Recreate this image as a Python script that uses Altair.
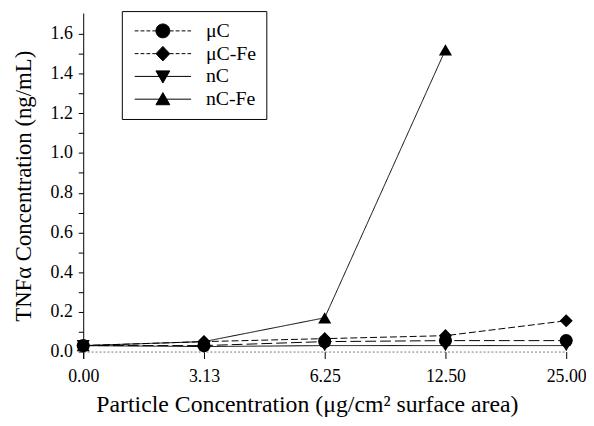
import altair as alt
import pandas as pd

# ---- data ----
x_labels = ["0.00", "3.13", "6.25", "12.50", "25.00"]
series_names = ["μC", "μC-Fe", "nC", "nC-Fe"]
uC = [0.03, 0.03, 0.05, 0.055, 0.055]
uC_Fe = [0.03, 0.05, 0.065, 0.08, 0.155]
nC = [0.03, 0.025, 0.03, 0.03, 0.03]
nC_Fe = [0.03, 0.05, 0.17, 1.52, None]

rows = []
for name, vals in zip(series_names, [uC, uC_Fe, nC, nC_Fe]):
    for xl, v in zip(x_labels, vals):
        if v is not None:
            rows.append({"x": xl, "y": v, "series": name})
df = pd.DataFrame(rows)

y_tick_values = [0.0, 0.1, 0.2, 0.3, 0.4, 0.5, 0.6, 0.7, 0.8, 0.9, 1.0,
                 1.1, 1.2, 1.3, 1.4, 1.5, 1.6]

FONT = "Liberation Serif"

# ---- legend symbols (line + marker) as custom paths ----
CX = 3.07
L0, L1 = -1.0, 7.14


def fmt(v):
    return f"{v:.3f}".rstrip("0").rstrip(".")


def line_part(dashed):
    if not dashed:
        return f"M{fmt(L0)},0H{fmt(L1)}"
    out = []
    for a, b in [(L0, CX - 1.0), (CX + 1.0, L1)]:
        p = a
        while p < b:
            q = min(p + 0.55, b)
            out.append(f"M{fmt(p)},0H{fmt(q)}")
            p = q + 0.3
    return "".join(out)


def circle(cx):
    k = 0.5523
    return (f"M{fmt(cx-1)},0"
            f"C{fmt(cx-1)},{fmt(-k)} {fmt(cx-k)},-1 {fmt(cx)},-1"
            f"C{fmt(cx+k)},-1 {fmt(cx+1)},{fmt(-k)} {fmt(cx+1)},0"
            f"C{fmt(cx+1)},{fmt(k)} {fmt(cx+k)},1 {fmt(cx)},1"
            f"C{fmt(cx-k)},1 {fmt(cx-1)},{fmt(k)} {fmt(cx-1)},0Z")


def diamond(cx):
    return f"M{fmt(cx)},-1.05L{fmt(cx+1)},0L{fmt(cx)},1.05L{fmt(cx-1)},0Z"


def tri_down(cx):
    return f"M{fmt(cx-1)},-0.8L{fmt(cx+1)},-0.8L{fmt(cx)},0.95Z"


def tri_up(cx):
    return f"M{fmt(cx)},-0.95L{fmt(cx+1)},0.8L{fmt(cx-1)},0.8Z"


legend_paths = [
    line_part(True) + circle(CX),
    line_part(True) + diamond(CX),
    line_part(False) + tri_down(CX),
    line_part(False) + tri_up(CX),
]

xenc = alt.X("x:O", sort=x_labels,
             scale=alt.Scale(type="point", padding=0),
             axis=alt.Axis(title="Particle Concentration (μg/cm² surface area)",
                           labelAngle=0, offset=-7, tickSize=7, labelPadding=9,
                           labelFont=FONT, labelFontSize=18, labelColor="black",
                           titleFont=FONT, titleFontSize=24,
                           domainDash=[2, 2], domainColor="#777",
                           titleX=226, titleY=61, titleBaseline="alphabetic"))
yenc = alt.Y("y:Q",
             scale=alt.Scale(domain=[-0.035, 1.705], nice=False, zero=False),
             axis=alt.Axis(title="TNFα Concentration (ng/mL)",
                           values=y_tick_values, tickSize=5, labelPadding=6,
                           labelOverlap=False,
                           labelFont=FONT, labelFontSize=18, labelColor="black",
                           titleFont=FONT, titleFontSize=23,
                           labelExpr="round(datum.value*10) % 2 == 0 ? format(datum.value, '.1f') : ''",
                           titleX=-60, titleBaseline="middle"))

base = alt.Chart(df)

lines = base.mark_line(color="black", strokeWidth=1).encode(
    x=xenc, y=yenc,
    strokeDash=alt.StrokeDash("series:N",
                              scale=alt.Scale(domain=series_names,
                                              range=[[11, 4], [7, 3], [1, 0], [1, 0]]),
                              legend=None),
    detail="series:N",
)

points = base.mark_point(filled=True, color="black", opacity=1, size=175).encode(
    x=xenc, y=yenc,
    shape=alt.Shape("series:N",
                    scale=alt.Scale(domain=series_names,
                                    range=["circle", "diamond", "triangle-down", "triangle-up"]),
                    legend=None),
)


def legend_spec(show_box, label_opacity):
    kw = dict(title=None, orient="none", legendX=39, legendY=-2, padding=10,
              symbolSize=196, labelOffset=55, labelFont=FONT, labelFontSize=20,
              labelColor="black", labelOpacity=label_opacity, rowPadding=3,
              symbolOpacity=1, symbolStrokeWidth=1)
    if show_box:
        kw["strokeColor"] = "black"
    return alt.Legend(**kw)


# outline legend: lines + marker outlines
legend_stroke = base.mark_point(filled=False, color="black", opacity=0).encode(
    x=xenc, y=yenc,
    shape=alt.Shape("series:N",
                    scale=alt.Scale(domain=series_names, range=legend_paths),
                    legend=legend_spec(True, 1)),
)

# fill legend: filled markers, overlaid at the same place
legend_fill = base.mark_point(filled=True, color="black", opacity=0).encode(
    x=xenc, y=yenc,
    shape=alt.Shape("series:N",
                    scale=alt.Scale(domain=series_names, range=legend_paths),
                    legend=legend_spec(False, 0)),
)

chart = alt.layer(lines, points, legend_stroke, legend_fill).resolve_scale(
    shape="independent"
).properties(
    width=488, height=349,
    autosize=alt.AutoSizeParams(type="none"),
    padding={"left": 76, "top": 3, "right": 20, "bottom": 58},
).configure_view(stroke=None).configure_axis(
    grid=False, domainColor="black", tickColor="black",
    labelFont=FONT, labelFontSize=18, labelColor="black",
    titleFont=FONT, titleFontSize=23, titleFontWeight="normal", titleColor="black",
).configure_legend(labelFont=FONT)

chart.save("out.html", embed_options={"renderer": "svg", "actions": False})
